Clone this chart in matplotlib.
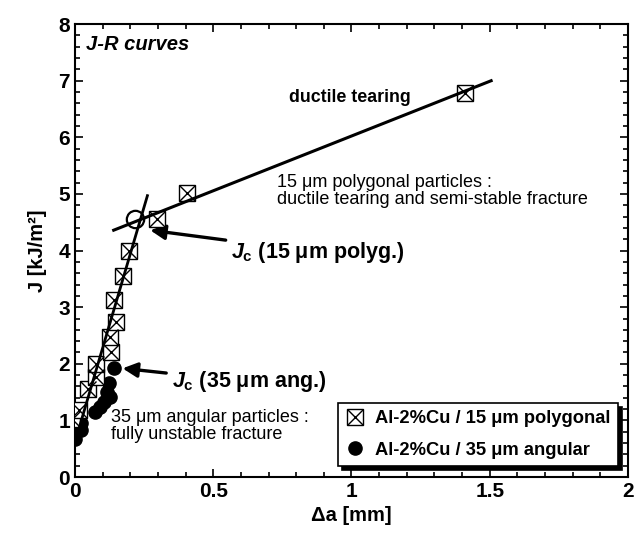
import numpy as np
import matplotlib
matplotlib.use('Agg')
import matplotlib.pyplot as plt
from matplotlib.ticker import MultipleLocator

plt.rcParams['font.family'] = ['Liberation Sans', 'DejaVu Sans']
plt.rcParams['font.weight'] = 'bold'
plt.rcParams['axes.labelweight'] = 'bold'
plt.rcParams['mathtext.fontset'] = 'custom'
plt.rcParams['mathtext.it'] = 'Liberation Sans:italic:bold'
plt.rcParams['mathtext.rm'] = 'Liberation Sans:bold'

# 15 um polygonal particles (crossed squares)
da_poly = [-0.01, 0.016, 0.048, 0.076, 0.076, 0.13, 0.127, 0.15, 0.142, 0.172, 0.196, 0.297, 0.406, 1.41]
J_poly = [1.02, 1.18, 1.55, 1.77, 1.99, 2.20, 2.48, 2.74, 3.13, 3.55, 4.00, 4.55, 5.01, 6.79]

# 35 um angular particles (filled circles)
da_ang = [0.0, 0.02, 0.023, 0.074, 0.092, 0.104, 0.116, 0.128, 0.122, 0.141]
J_ang = [0.68, 0.83, 0.96, 1.15, 1.24, 1.33, 1.51, 1.42, 1.66, 1.92]

# fitted lines (endpoints)
blunt_x = [0.005, 0.262]
blunt_y = [0.70, 4.97]
tear_x = [0.14, 1.505]
tear_y = [4.36, 7.0]

# critical points
jc_poly = (0.218, 4.55)
jc_ang = (0.176, 1.92)

fig = plt.figure(figsize=(6.43, 5.36), dpi=100)
ax = fig.add_axes([0.1166, 0.110, 0.8601, 0.845])

ax.plot(blunt_x, blunt_y, color='k', lw=2.0, zorder=6)
ax.plot(tear_x, tear_y, color='k', lw=2.2, zorder=6)

sq, = ax.plot(da_poly, J_poly, ls='none', marker='s', ms=11.5, mfc='white', mec='k', mew=1.0, zorder=4)
xx, = ax.plot(da_poly, J_poly, ls='none', marker='x', ms=11.5, mec='k', mew=1.0, zorder=5)
dots, = ax.plot(da_ang, J_ang, ls='none', marker='o', ms=9.5, color='k', zorder=3)

ax.plot([jc_poly[0]], [jc_poly[1]], ls='none', marker='o', ms=12.5, mfc='none', mec='k', mew=1.6, zorder=7)

arrow = dict(arrowstyle='-|>', lw=2.4, color='k', mutation_scale=22, shrinkA=2, shrinkB=0)
ax.annotate(r'$J_\mathrm{c}$ (15 μm polyg.)', xy=(0.272, 4.36), xytext=(0.565, 3.97),
            fontsize=15.5, ha='left', va='center', arrowprops=arrow)
ax.annotate(r'$J_\mathrm{c}$ (35 μm ang.)', xy=(0.172, 1.92), xytext=(0.35, 1.68),
            fontsize=15.5, ha='left', va='center', arrowprops=arrow)

ax.text(0.04, 7.64, 'J-R curves', fontsize=14.5, style='italic', ha='left', va='center')
ax.text(0.993, 6.71, 'ductile tearing', fontsize=12.8, ha='center', va='center')
ax.text(0.73, 5.05, '15 μm polygonal particles :\nductile tearing and semi-stable fracture',
        fontsize=13, fontweight='normal', ha='left', va='center', linespacing=1.0)
ax.text(0.13, 0.90, '35 μm angular particles :\nfully unstable fracture',
        fontsize=13, fontweight='normal', ha='left', va='center', linespacing=1.0)

leg = ax.legend([(sq, xx), dots], ['Al-2%Cu / 15 μm polygonal', 'Al-2%Cu / 35 μm angular'],
                loc='lower right', bbox_to_anchor=(0.982, 0.024), borderaxespad=0,
                fontsize=13.2, fancybox=False, framealpha=1, edgecolor='k',
                handlelength=1.1, handletextpad=0.55, borderpad=0.4, labelspacing=0.8,
                shadow={'color': 'k', 'alpha': 1, 'ox': 3, 'oy': -3})
leg.get_frame().set_linewidth(1.2)

ax.set_xlim(0, 2)
ax.set_ylim(0, 8)
ax.xaxis.set_minor_locator(MultipleLocator(0.1))
ax.yaxis.set_major_locator(MultipleLocator(1))
ax.yaxis.set_minor_locator(MultipleLocator(0.2))
ax.set_xticks([0, 0.5, 1, 1.5, 2])
ax.set_xticklabels(['0', '0.5', '1', '1.5', '2'])
ax.tick_params(which='both', direction='in', top=True, right=True, labelsize=15, width=1.2)
ax.tick_params(which='major', length=6)
ax.tick_params(which='minor', length=3.5)
for s in ax.spines.values():
    s.set_linewidth(1.5)

ax.set_xlabel('Δa [mm]', fontsize=14.5, labelpad=4)
ax.set_ylabel('J [kJ/m²]', fontsize=14.5, labelpad=8)

fig.savefig('out.png', dpi=100)
